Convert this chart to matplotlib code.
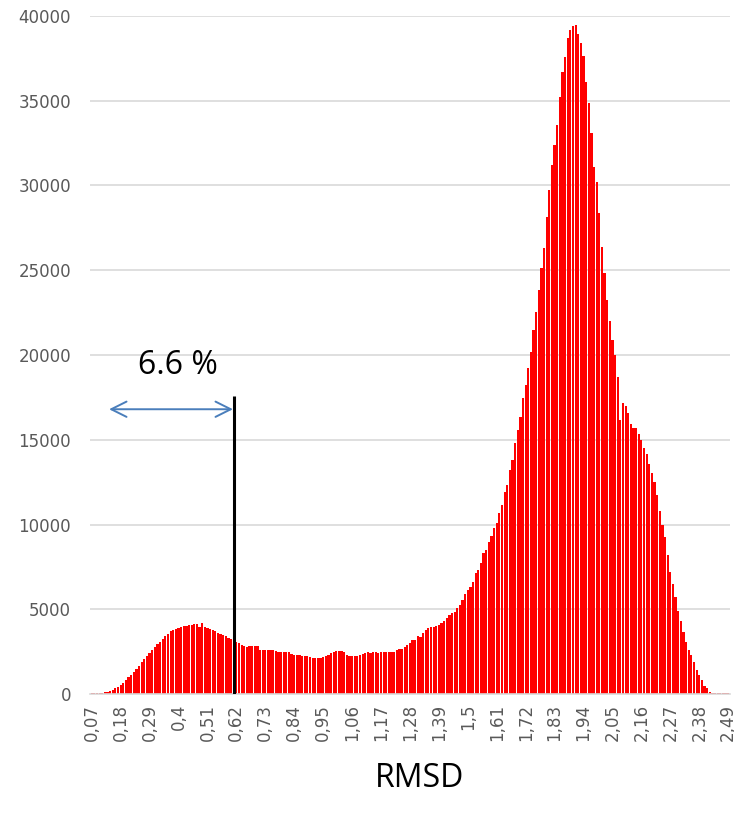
import numpy as np
import matplotlib
matplotlib.use("Agg")
import matplotlib.pyplot as plt

plt.rcParams['font.family'] = ['DejaVu Sans']

# RMSD bins (0.07 .. 2.49, step 0.01) and counts per bin
rmsd = np.round(np.arange(0.07, 2.495, 0.01), 2)
counts = [
    40, 60, 60, 70, 70, 90, 130, 180, 260, 330,
    420, 520, 640, 800, 980, 1150, 1300, 1480, 1650, 1880,
    2080, 2260, 2420, 2600, 2760, 2950, 3080, 3250, 3420, 3560,
    3700, 3780, 3820, 3870, 3950, 4010, 4040, 4070, 4100, 4110,
    4110, 3970, 4180, 3970, 3900, 3820, 3780, 3700, 3620, 3560,
    3480, 3400, 3300, 3220, 3150, 3090, 3030, 2920, 2860, 2790,
    2850, 2850, 2860, 2850, 2620, 2600, 2600, 2580, 2620, 2600,
    2560, 2480, 2480, 2470, 2480, 2450, 2340, 2320, 2320, 2300,
    2260, 2260, 2230, 2190, 2100, 2100, 2110, 2130, 2160, 2220,
    2300, 2420, 2470, 2520, 2560, 2540, 2460, 2330, 2270, 2260,
    2260, 2270, 2320, 2380, 2440, 2460, 2420, 2450, 2460, 2390,
    2460, 2450, 2460, 2470, 2460, 2500, 2580, 2650, 2650, 2790,
    2870, 3000, 3190, 3200, 3440, 3380, 3620, 3780, 3900, 3930,
    3970, 3990, 4070, 4200, 4300, 4460, 4660, 4760, 4860, 5050,
    5250, 5550, 5900, 6140, 6330, 6630, 7120, 7320, 7700, 8300,
    8500, 8990, 9300, 9770, 10070, 10660, 11150, 11940, 12330, 13220,
    13810, 14830, 15580, 16360, 17440, 18230, 19210, 20200, 21480, 22560,
    23840, 25130, 26310, 28160, 29740, 31210, 32390, 33570, 35200, 36720,
    37600, 38690, 39180, 39410, 39470, 38940, 38430, 37640, 36130, 34870,
    33100, 31110, 30230, 28380, 26390, 24860, 23250, 22020, 20890, 20000,
    18720, 16170, 17150, 16990, 16560, 15930, 15680, 15680, 15340, 14990,
    14500, 14160, 13570, 13020, 12530, 11740, 10810, 9950, 9240, 8200,
    7220, 6490, 5740, 4920, 4330, 3680, 3090, 2600, 2300, 1910,
    1420, 1120, 830, 470, 340, 140, 60, 50, 50, 40,
    40, 30, 30,
]

tick_values = rmsd[::11]
tick_labels = [f"{v:g}".replace(".", ",") for v in tick_values]
y_ticks = [0, 5000, 10000, 15000, 20000, 25000, 30000, 35000, 40000]

# Cut-off marker and its annotation
cutoff_rmsd = 0.611
cutoff_top = 17600
arrow_start = 0.136
arrow_y = 16800
share_label = "6.6 %"

W, H = 734, 821
fig = plt.figure(figsize=(W / 100, H / 100), dpi=100)
ax = fig.add_axes([90.4 / W, 1 - 694 / H, (729.5 - 90.4) / W, (694 - 16) / H])

ax.bar(rmsd, counts, width=0.0084, color="#FF0000", linewidth=0, zorder=3)

ax.set_xlim(rmsd[0] - 0.005, rmsd[-1] + 0.005)
ax.set_ylim(0, 40000)
ax.set_yticks(y_ticks)
ax.set_yticklabels([str(v) for v in y_ticks])
ax.set_xticks(tick_values)
ax.set_xticklabels(tick_labels, rotation=90)

ax.grid(axis="y", color="#D9D9D9", linewidth=1.2, zorder=0)
ax.set_axisbelow(True)
for side in ("left", "right", "top"):
    ax.spines[side].set_visible(False)
ax.spines["bottom"].set_color("#D9D9D9")
ax.spines["bottom"].set_linewidth(1.2)
ax.spines["bottom"].set_zorder(4)
ax.tick_params(axis="both", length=0, colors="#595959", labelsize=12)
ax.tick_params(axis="y", pad=14)
ax.tick_params(axis="x", pad=7)

fig.text(420 / W, 1 - 778 / H, "RMSD", fontsize=23, family="Open Sans",
         color="black", ha="center", va="center")

# vertical cut-off line
ax.plot([cutoff_rmsd, cutoff_rmsd], [0, cutoff_top], color="black", linewidth=2.2,
        zorder=5, solid_capstyle="butt")
# double-headed arrow spanning the share below the cut-off
ax.annotate("", xy=(arrow_start, arrow_y), xytext=(cutoff_rmsd - 0.004, arrow_y),
            arrowprops=dict(arrowstyle="<->,head_length=1.1,head_width=0.55",
                            color="#4A7EBB", linewidth=1.4, shrinkA=0, shrinkB=0),
            zorder=5)
ax.text(0.398, 19400, share_label, fontsize=23, family="Open Sans", color="black",
        ha="center", va="center", zorder=6)

fig.savefig("out.png", dpi=100)
